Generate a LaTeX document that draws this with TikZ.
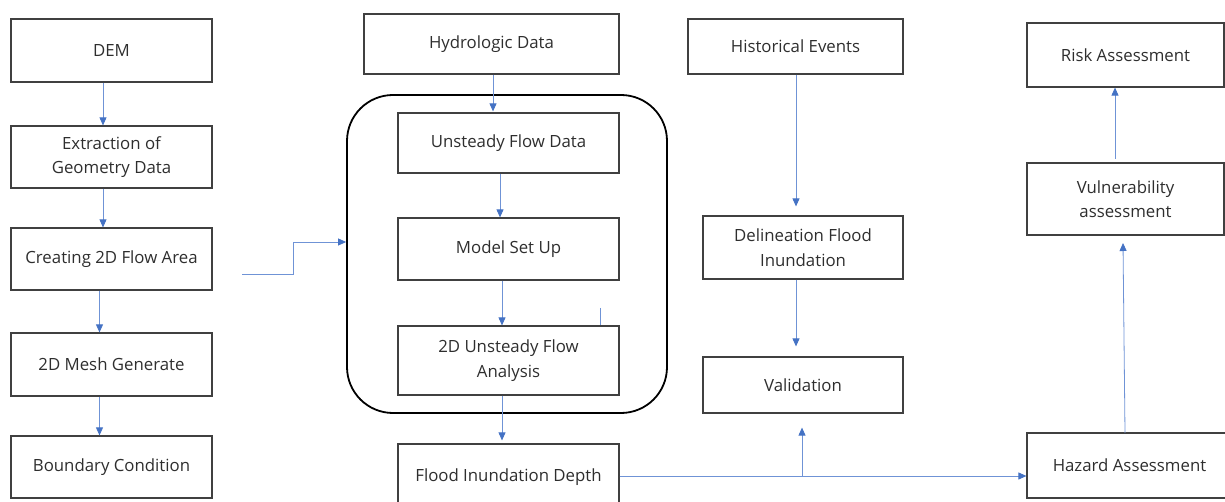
\documentclass[tikz,border=0pt]{standalone}
\usepackage{fontspec}
\setmainfont{Open Sans}
\usetikzlibrary{arrows.meta,calc}
\definecolor{boxline}{HTML}{404040}
\definecolor{lineblue}{HTML}{6F93D6}
\definecolor{tipblue}{HTML}{4472C4}
\begin{document}
\begin{tikzpicture}[x=1pt,y=-1pt,
  box/.style={draw=boxline,line width=1.2pt,rectangle,inner sep=0pt,align=center,
    font=\fontsize{16.8}{24.5}\selectfont,text=black!82},
  arr/.style={draw=lineblue,line width=0.8pt,-{Triangle[length=8pt,width=7pt,color=tipblue]}},
  plain/.style={draw=lineblue,line width=0.8pt}]
\useasboundingbox (0,0) rectangle (1225,502);
% left column
\node[box,minimum width=201pt,minimum height=63pt] (dem) at (111.5,50.5) {DEM};
\node[box,minimum width=201pt,minimum height=62pt] (extr) at (111.5,157) {Extraction of\\Geometry Data};
\node[box,minimum width=201pt,minimum height=62pt] (create) at (111.5,259) {Creating 2D Flow Area};
\node[box,minimum width=201pt,minimum height=63pt] (mesh) at (111.5,364.5) {2D Mesh Generate};
\node[box,minimum width=201pt,minimum height=62pt] (bound) at (111.5,467) {Boundary Condition};
% middle column
\node[box,minimum width=255pt,minimum height=60pt] (hydro) at (491.5,44) {Hydrologic Data};
\node[draw=black,line width=1.8pt,rounded corners=46pt,minimum width=320pt,minimum height=318pt,inner sep=0pt] (cont) at (507,254) {};
\node[box,minimum width=221pt,minimum height=60pt] (ufd) at (508.5,143) {Unsteady Flow Data};
\node[box,minimum width=221pt,minimum height=62pt] (model) at (508.5,249) {Model Set Up};
\node[box,minimum width=221pt,minimum height=69pt] (unst) at (508.5,360.5) {2D Unsteady Flow\\Analysis};
\node[box,minimum width=221pt,minimum height=66pt] (flood) at (508.5,477) {Flood Inundation Depth};
% third column
\node[box,minimum width=215pt,minimum height=55pt] (hist) at (795.5,46.5) {Historical Events};
\node[box,minimum width=200pt,minimum height=63pt] (delin) at (803,247.5) {Delineation Flood\\Inundation};
\node[box,minimum width=200pt,minimum height=56pt] (valid) at (803,385) {Validation};
% right column
\node[box,minimum width=197pt,minimum height=64pt] (risk) at (1125.5,55) {Risk Assessment};
\node[box,minimum width=197pt,minimum height=72pt] (vuln) at (1125.5,199) {Vulnerability\\assessment};
\node[box,minimum width=205pt,minimum height=65pt] (hazard) at (1129.5,465.5) {Hazard Assessment};
% helper coordinates
\coordinate (xa) at (103,0);
\coordinate (xb) at (99.5,0);
\coordinate (cs) at (242,274);
\coordinate (cm) at (293,242);
\coordinate (st) at (600,308);
\coordinate (xh) at (796,0);
\coordinate (br) at (802,476);
\coordinate (vs) at (1115,159);
\coordinate (hs) at (1125,433);
\coordinate (ht) at (1123,243);
% connectors
\draw[arr] (dem.south -| xa) -- (extr.north -| xa);
\draw[arr] (extr.south -| xa) -- (create.north -| xa);
\draw[arr] (create.south -| xb) -- (mesh.north -| xb);
\draw[arr] (mesh.south -| xb) -- (bound.north -| xb);
\draw[arr] (cs) -| (cm) -- (cm -| cont.west);
\draw[arr] ($(hydro.south)+(1.5,0)$) -- ($(ufd.north)+(-15.5,-1)$);
\draw[arr] ($(ufd.south)+(-8.5,0)$) -- ($(model.north)+(-8.5,0)$);
\draw[arr] ($(model.south)+(-6.5,0)$) -- ($(unst.north)+(-6.5,0)$);
\draw[plain] (st) -- (st |- unst.north);
\draw[arr,shorten >=3pt] ($(unst.south)+(-6.5,0)$) -- ($(flood.north)+(-6.5,0)$);
\draw[arr] (flood.east |- br) -- (hazard.west |- br);
\draw[arr,shorten >=14pt] (br) -- (br |- valid.south);
\draw[arr,shorten >=9pt] (hist.south -| xh) -- (delin.north -| xh);
\draw[arr,shorten >=10pt] (delin.south -| xh) -- (valid.north -| xh);
\draw[arr] (hs) -- (ht);
\draw[arr] (vs) -- (vs |- risk.south);
\end{tikzpicture}
\end{document}
